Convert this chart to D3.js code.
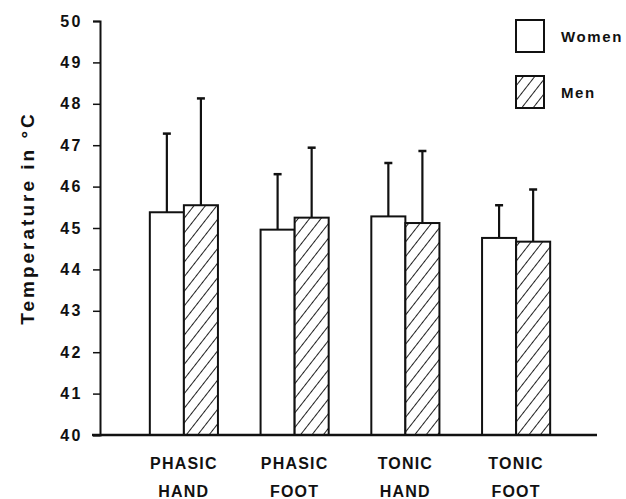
<!DOCTYPE html>
<html>
<head>
<meta charset="utf-8">
<script src="https://cdn.jsdelivr.net/npm/d3@7"></script>
<style>
  body { margin: 0; background: #fff; }
  text { font-family: "Liberation Sans", Arial, sans-serif; font-weight: bold; fill: #111; }
</style>
</head>
<body>
<div class="container"></div>
<script>
// chart data
const categories = [["PHASIC", "HAND"], ["PHASIC", "FOOT"], ["TONIC", "HAND"], ["TONIC", "FOOT"]];
const seriesNames = ["Women", "Men"];
const womenMeans = [45.38, 44.96, 45.28, 44.76];
const womenSD = [1.90, 1.34, 1.29, 0.79];
const menMeans = [45.55, 45.25, 45.12, 44.67];
const menSD = [2.58, 1.69, 1.74, 1.26];
const yTicks = [40, 41, 42, 43, 44, 45, 46, 47, 48, 49, 50];

const width = 626;
const height = 499;

const svg = d3.select(".container")
  .append("svg")
  .attr("width", width)
  .attr("height", height);

// hatch pattern for the men's bars
const defs = svg.append("defs");
const hatch = defs.append("pattern")
  .attr("id", "hatch")
  .attr("patternUnits", "userSpaceOnUse")
  .attr("width", 9)
  .attr("height", 9)
  .attr("patternTransform", "rotate(38)");
hatch.append("rect").attr("width", 9).attr("height", 9).attr("fill", "#fff");
hatch.append("line")
  .attr("x1", 0).attr("y1", 0).attr("x2", 0).attr("y2", 9)
  .attr("stroke", "#222").attr("stroke-width", 2);

// scales
const xScale = d3.scaleBand()
  .domain(d3.range(categories.length))
  .range([100, 600])
  .paddingInner(0.385)
  .paddingOuter(0.45);

const xInner = d3.scaleBand()
  .domain(seriesNames)
  .range([0, xScale.bandwidth()]);

const yScale = d3.scaleLinear()
  .domain([40, 50])
  .range([435, 21]);

// rows for each bar
const rows = [];
categories.forEach((c, i) => {
  rows.push({ i: i, s: "Women", mean: womenMeans[i], sd: womenSD[i] });
  rows.push({ i: i, s: "Men", mean: menMeans[i], sd: menSD[i] });
});

// error bars (upper only), drawn first so the bar outline sits on top
const err = svg.append("g")
  .attr("stroke", "#111")
  .attr("stroke-width", 2.2);
rows.forEach(d => {
  const cx = xScale(d.i) + xInner(d.s) + xInner.bandwidth() / 2;
  err.append("line")
    .attr("x1", cx).attr("x2", cx)
    .attr("y1", yScale(d.mean)).attr("y2", yScale(d.mean + d.sd));
  err.append("line")
    .attr("x1", cx - 4).attr("x2", cx + 4)
    .attr("y1", yScale(d.mean + d.sd)).attr("y2", yScale(d.mean + d.sd))
    .attr("stroke-width", 2.5);
});

// bars
svg.append("g")
  .selectAll("rect")
  .data(rows)
  .join("rect")
  .attr("x", d => xScale(d.i) + xInner(d.s))
  .attr("y", d => yScale(d.mean))
  .attr("width", xInner.bandwidth())
  .attr("height", d => yScale(40) - yScale(d.mean))
  .attr("fill", d => d.s === "Men" ? "url(#hatch)" : "#fff")
  .attr("stroke", "#111")
  .attr("stroke-width", 2);

// y axis
const yAxis = svg.append("g")
  .attr("transform", "translate(100,0)")
  .call(d3.axisLeft(yScale).tickValues(yTicks).tickSize(7).tickPadding(10).tickFormat(d3.format("d")));
yAxis.select(".domain").attr("stroke", "#111").attr("stroke-width", 2);
yAxis.selectAll(".tick line").attr("stroke", "#111").attr("stroke-width", 1.5);
yAxis.selectAll(".tick text")
  .attr("font-size", 16)
  .attr("letter-spacing", 2.5)
  .attr("font-family", "Liberation Sans, Arial, sans-serif")
  .attr("font-weight", "bold")
  .attr("fill", "#111");

// x baseline
svg.append("line")
  .attr("x1", 92).attr("x2", 597)
  .attr("y1", yScale(40)).attr("y2", yScale(40))
  .attr("stroke", "#111")
  .attr("stroke-width", 2.5);

// category labels
const labels = svg.append("g");
categories.forEach((c, i) => {
  const cx = xScale(i) + xScale.bandwidth() / 2;
  labels.append("text")
    .attr("x", cx).attr("y", 469)
    .attr("text-anchor", "middle")
    .attr("font-size", 16)
    .attr("letter-spacing", 1.2)
    .text(c[0]);
  labels.append("text")
    .attr("x", cx).attr("y", 497)
    .attr("text-anchor", "middle")
    .attr("font-size", 16)
    .attr("letter-spacing", 1.2)
    .text(c[1]);
});

// y axis title
svg.append("text")
  .attr("transform", "translate(34,218) rotate(-90)")
  .attr("text-anchor", "middle")
  .attr("font-size", 19)
  .attr("letter-spacing", 3)
  .text("Temperature in °C");

// legend
const legend = svg.append("g");
seriesNames.forEach((s, k) => {
  const y0 = 20 + k * 56;
  legend.append("rect")
    .attr("x", 516).attr("y", y0)
    .attr("width", 28).attr("height", 32)
    .attr("fill", s === "Men" ? "url(#hatch)" : "#fff")
    .attr("stroke", "#111")
    .attr("stroke-width", 2);
  legend.append("text")
    .attr("x", 561).attr("y", y0 + 22)
    .attr("font-size", 15)
    .attr("letter-spacing", 1.6)
    .text(s);
});
</script>
</body>
</html>
